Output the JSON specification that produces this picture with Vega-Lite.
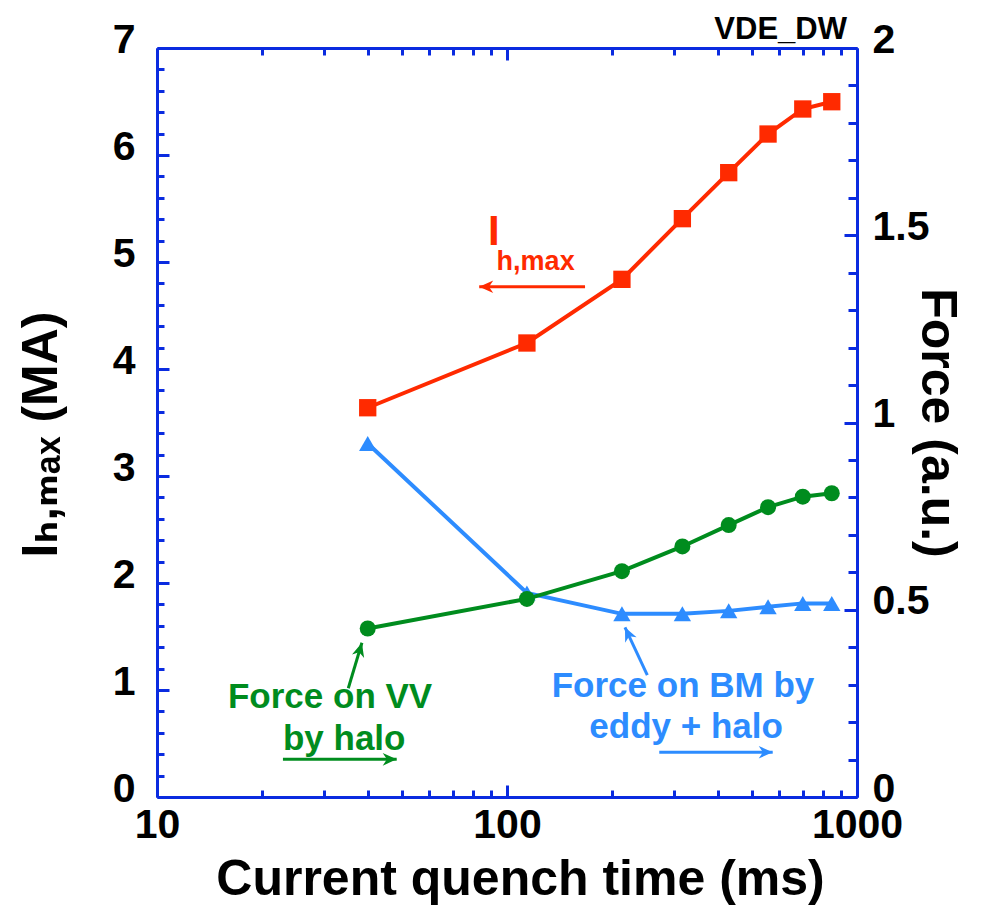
{
  "$schema": "https://vega.github.io/schema/vega-lite/v6.json",
  "width": 700,
  "height": 749,
  "autosize": {"type": "none"},
  "padding": {"left": 157, "top": 48, "right": 128, "bottom": 109},
  "background": "white",
  "config": {
    "font": "Liberation Sans",
    "view": {"stroke": null},
    "axis": {
      "grid": false,
      "domainColor": "#0a2be0",
      "domainWidth": 3,
      "tickColor": "#0a2be0",
      "tickWidth": 3,
      "labelFont": "Liberation Sans",
      "labelFontWeight": "bold",
      "labelFontSize": 41,
      "labelColor": "black",
      "labelOverlap": false,
      "labelFlush": false,
      "labelBound": false,
      "titleFont": "Liberation Sans",
      "titleFontWeight": "bold",
      "titleColor": "black"
    }
  },
  "title": {
    "text": "VDE_DW",
    "anchor": "end",
    "frame": "group",
    "fontSize": 31,
    "fontWeight": "bold",
    "font": "Liberation Sans",
    "color": "black",
    "baseline": "alphabetic",
    "offset": -23,
    "dx": -10,
    "dy": 28
  },
  "datasets": {
    "series": [
      {"t": 40, "value": 3.638, "series": "Ihmax"},
      {"t": 114, "value": 4.243, "series": "Ihmax"},
      {"t": 213, "value": 4.838, "series": "Ihmax"},
      {"t": 317, "value": 5.405, "series": "Ihmax"},
      {"t": 430, "value": 5.835, "series": "Ihmax"},
      {"t": 557, "value": 6.196, "series": "Ihmax"},
      {"t": 700, "value": 6.43, "series": "Ihmax"},
      {"t": 847, "value": 6.498, "series": "Ihmax"},
      {"t": 40, "value": 0.45, "series": "VV"},
      {"t": 114, "value": 0.529, "series": "VV"},
      {"t": 213, "value": 0.603, "series": "VV"},
      {"t": 317, "value": 0.669, "series": "VV"},
      {"t": 430, "value": 0.726, "series": "VV"},
      {"t": 557, "value": 0.774, "series": "VV"},
      {"t": 700, "value": 0.802, "series": "VV"},
      {"t": 847, "value": 0.811, "series": "VV"},
      {"t": 40, "value": 0.944, "series": "BM"},
      {"t": 114, "value": 0.545, "series": "BM"},
      {"t": 213, "value": 0.489, "series": "BM"},
      {"t": 317, "value": 0.489, "series": "BM"},
      {"t": 430, "value": 0.497, "series": "BM"},
      {"t": 557, "value": 0.508, "series": "BM"},
      {"t": 700, "value": 0.517, "series": "BM"},
      {"t": 847, "value": 0.517, "series": "BM"}
    ],
    "notes": [
      {"x": 88.3, "y": 5.159, "text": "I", "kind": "redbig"},
      {"x": 93.4, "y": 4.925, "text": "h,max", "kind": "redsmall"},
      {"x": 15.95, "y": 0.829, "text": "Force on VV", "kind": "green"},
      {"x": 22.9, "y": 0.439, "text": "by halo", "kind": "green"},
      {"x": 134.2, "y": 0.932, "text": "Force on BM by", "kind": "blue"},
      {"x": 171.9, "y": 0.549, "text": "eddy + halo", "kind": "blue"}
    ],
    "arrows": [
      {"x": 167.1, "y": 4.769, "x2": 83.3, "y2": 4.769, "id": "red"},
      {"x": 22.9, "y": 0.352, "x2": 48.4, "y2": 0.352, "id": "greenH"},
      {"x": 272.3, "y": 0.418, "x2": 574.3, "y2": 0.418, "id": "blueH"},
      {"x": 35.2, "y": 1.016, "x2": 38.5, "y2": 1.442, "id": "greenD"},
      {"x": 251.7, "y": 1.14, "x2": 217.3, "y2": 1.586, "id": "blueD"}
    ]
  },
  "layer": [
    {
      "layer": [
        {
          "data": {"name": "series"},
          "transform": [{"filter": "datum.series === 'Ihmax'"}],
          "mark": {"type": "line", "color": "#ff2a00", "strokeWidth": 4},
          "encoding": {
            "x": {"field": "t", "type": "quantitative"},
            "y": {"field": "value", "type": "quantitative"}
          }
        },
        {
          "data": {"name": "series"},
          "transform": [{"filter": "datum.series === 'Ihmax'"}],
          "mark": {"type": "point", "shape": "square", "filled": true, "color": "#ff2a00", "size": 300, "opacity": 1},
          "encoding": {
            "x": {"field": "t", "type": "quantitative"},
            "y": {"field": "value", "type": "quantitative"}
          }
        },
        {
          "data": {"name": "arrows"},
          "mark": {"type": "rule", "strokeWidth": 3},
          "encoding": {
            "x": {"field": "x", "type": "quantitative"},
            "y": {"field": "y", "type": "quantitative"},
            "x2": {"field": "x2"},
            "y2": {"field": "y2"},
            "color": {
              "field": "id", "type": "nominal", "legend": null,
              "scale": {"domain": ["red", "greenH", "greenD", "blueH", "blueD"], "range": ["#ff2a00", "#008c1e", "#008c1e", "#2d8cff", "#2d8cff"]}
            }
          }
        },
        {
          "data": {"name": "arrows"},
          "transform": [{"filter": "datum.id === 'red'"}],
          "mark": {"type": "point", "shape": "M0,0 L-1,-0.45 L-0.7,0 L-1,0.45 Z", "filled": true, "size": 784, "color": "#ff2a00", "opacity": 1, "angle": 180},
          "encoding": {
            "x": {"field": "x2", "type": "quantitative"},
            "y": {"field": "y2", "type": "quantitative"}
          }
        },
        {
          "data": {"name": "arrows"},
          "transform": [{"filter": "datum.id === 'greenH'"}],
          "mark": {"type": "point", "shape": "M0,0 L-1,-0.45 L-0.7,0 L-1,0.45 Z", "filled": true, "size": 784, "color": "#008c1e", "opacity": 1, "angle": 0},
          "encoding": {
            "x": {"field": "x2", "type": "quantitative"},
            "y": {"field": "y2", "type": "quantitative"}
          }
        },
        {
          "data": {"name": "arrows"},
          "transform": [{"filter": "datum.id === 'blueH'"}],
          "mark": {"type": "point", "shape": "M0,0 L-1,-0.45 L-0.7,0 L-1,0.45 Z", "filled": true, "size": 784, "color": "#2d8cff", "opacity": 1, "angle": 0},
          "encoding": {
            "x": {"field": "x2", "type": "quantitative"},
            "y": {"field": "y2", "type": "quantitative"}
          }
        },
        {
          "data": {"name": "arrows"},
          "transform": [{"filter": "datum.id === 'greenD'"}],
          "mark": {"type": "point", "shape": "M0,0 L-1,-0.45 L-0.7,0 L-1,0.45 Z", "filled": true, "size": 784, "color": "#008c1e", "opacity": 1, "angle": 286},
          "encoding": {
            "x": {"field": "x2", "type": "quantitative"},
            "y": {"field": "y2", "type": "quantitative"}
          }
        },
        {
          "data": {"name": "arrows"},
          "transform": [{"filter": "datum.id === 'blueD'"}],
          "mark": {"type": "point", "shape": "M0,0 L-1,-0.45 L-0.7,0 L-1,0.45 Z", "filled": true, "size": 784, "color": "#2d8cff", "opacity": 1, "angle": 245},
          "encoding": {
            "x": {"field": "x2", "type": "quantitative"},
            "y": {"field": "y2", "type": "quantitative"}
          }
        },
        {
          "data": {"name": "notes"},
          "transform": [{"filter": "datum.kind === 'redbig'"}],
          "mark": {"type": "text", "align": "left", "baseline": "alphabetic", "font": "Liberation Sans", "fontWeight": "bold", "fontSize": 42, "color": "#ff2a00"},
          "encoding": {
            "x": {"field": "x", "type": "quantitative"},
            "y": {"field": "y", "type": "quantitative"},
            "text": {"field": "text"}
          }
        },
        {
          "data": {"name": "notes"},
          "transform": [{"filter": "datum.kind === 'redsmall'"}],
          "mark": {"type": "text", "align": "left", "baseline": "alphabetic", "font": "Liberation Sans", "fontWeight": "bold", "fontSize": 27, "color": "#ff2a00"},
          "encoding": {
            "x": {"field": "x", "type": "quantitative"},
            "y": {"field": "y", "type": "quantitative"},
            "text": {"field": "text"}
          }
        },
        {
          "data": {"name": "notes"},
          "transform": [{"filter": "datum.kind === 'green'"}],
          "mark": {"type": "text", "align": "left", "baseline": "alphabetic", "font": "Liberation Sans", "fontWeight": "bold", "fontSize": 35, "color": "#008c1e"},
          "encoding": {
            "x": {"field": "x", "type": "quantitative"},
            "y": {"field": "y", "type": "quantitative"},
            "text": {"field": "text"}
          }
        },
        {
          "data": {"name": "notes"},
          "transform": [{"filter": "datum.kind === 'blue'"}],
          "mark": {"type": "text", "align": "left", "baseline": "alphabetic", "font": "Liberation Sans", "fontWeight": "bold", "fontSize": 35, "color": "#2d8cff"},
          "encoding": {
            "x": {"field": "x", "type": "quantitative"},
            "y": {"field": "y", "type": "quantitative"},
            "text": {"field": "text"}
          }
        }
      ],
      "encoding": {
        "x": {
          "type": "quantitative",
          "scale": {"type": "log", "domain": [10, 1000], "nice": false},
          "axis": {
            "orient": "bottom",
            "title": "Current quench time (ms)",
            "titleFontSize": 50,
            "titlePadding": 4,
            "titleX": 363,
            "values": [10, 20, 30, 40, 50, 60, 70, 80, 90, 100, 200, 300, 400, 500, 600, 700, 800, 900, 1000],
            "labelExpr": "(datum.value == 10 || datum.value == 100 || datum.value == 1000) ? ('' + datum.value) : ''",
            "tickSize": {"condition": {"test": "datum.value == 10 || datum.value == 100 || datum.value == 1000", "value": -12}, "value": -7},
            "labelPadding": 20
          }
        },
        "y": {
          "type": "quantitative",
          "scale": {"domain": [0, 7], "nice": false, "zero": false},
          "axis": {
            "orient": "left",
            "title": "Iₕ,ₘₐₓ (MA)",
            "titleFontSize": 50,
            "titleFont": "Liberation Sans, DejaVu Sans",
            "titlePadding": 46,
            "titleY": 386,
            "values": [0, 0.2, 0.4, 0.6, 0.8, 1, 1.2, 1.4, 1.6, 1.8, 2, 2.2, 2.4, 2.6, 2.8, 3, 3.2, 3.4, 3.6, 3.8, 4, 4.2, 4.4, 4.6, 4.8, 5, 5.2, 5.4, 5.6, 5.8, 6, 6.2, 6.4, 6.6, 6.8, 7],
            "labelExpr": "datum.value % 1 === 0 ? format(datum.value, 'd') : ''",
            "tickSize": {"condition": {"test": "datum.value % 1 === 0", "value": -12}, "value": -7},
            "labelPadding": 34,
            "labelOffset": -8
          }
        }
      }
    },
    {
      "layer": [
        {
          "data": {"name": "series"},
          "transform": [{"filter": "datum.series === 'BM'"}],
          "mark": {"type": "line", "color": "#2d8cff", "strokeWidth": 4},
          "encoding": {
            "x": {"field": "t", "type": "quantitative"},
            "y": {"field": "value", "type": "quantitative"}
          }
        },
        {
          "data": {"name": "series"},
          "transform": [{"filter": "datum.series === 'BM'"}],
          "mark": {"type": "point", "shape": "triangle-up", "filled": true, "color": "#2d8cff", "size": 300, "opacity": 1},
          "encoding": {
            "x": {"field": "t", "type": "quantitative"},
            "y": {"field": "value", "type": "quantitative"}
          }
        },
        {
          "data": {"name": "series"},
          "transform": [{"filter": "datum.series === 'VV'"}],
          "mark": {"type": "line", "color": "#008c1e", "strokeWidth": 4},
          "encoding": {
            "x": {"field": "t", "type": "quantitative"},
            "y": {"field": "value", "type": "quantitative"}
          }
        },
        {
          "data": {"name": "series"},
          "transform": [{"filter": "datum.series === 'VV'"}],
          "mark": {"type": "point", "shape": "circle", "filled": true, "color": "#008c1e", "size": 256, "opacity": 1},
          "encoding": {
            "x": {"field": "t", "type": "quantitative"},
            "y": {"field": "value", "type": "quantitative"}
          }
        }
      ],
      "encoding": {
        "x": {
          "type": "quantitative",
          "scale": {"type": "log", "domain": [10, 1000], "nice": false},
          "axis": {
            "orient": "top",
            "title": null,
            "labels": false,
            "values": [10, 20, 30, 40, 50, 60, 70, 80, 90, 100, 200, 300, 400, 500, 600, 700, 800, 900, 1000],
            "tickSize": {"condition": {"test": "datum.value == 10 || datum.value == 100 || datum.value == 1000", "value": -12}, "value": -7}
          }
        },
        "y": {
          "type": "quantitative",
          "scale": {"domain": [0, 2], "nice": false, "zero": false},
          "axis": {
            "orient": "right",
            "title": "Force (a.u.)",
            "titleFontSize": 50,
            "titlePadding": -17,
            "values": [0, 0.1, 0.2, 0.3, 0.4, 0.5, 0.6, 0.7, 0.8, 0.9, 1, 1.1, 1.2, 1.3, 1.4, 1.5, 1.6, 1.7, 1.8, 1.9, 2],
            "labelExpr": "abs(datum.value * 2 - round(datum.value * 2)) < 1e-6 ? format(datum.value, '~g') : ''",
            "tickSize": {"condition": {"test": "abs(datum.value * 2 - round(datum.value * 2)) < 1e-6", "value": -13}, "value": -9},
            "labelPadding": 28,
            "labelOffset": -8
          }
        }
      }
    }
  ],
  "resolve": {"scale": {"x": "independent", "y": "independent"}}
}
